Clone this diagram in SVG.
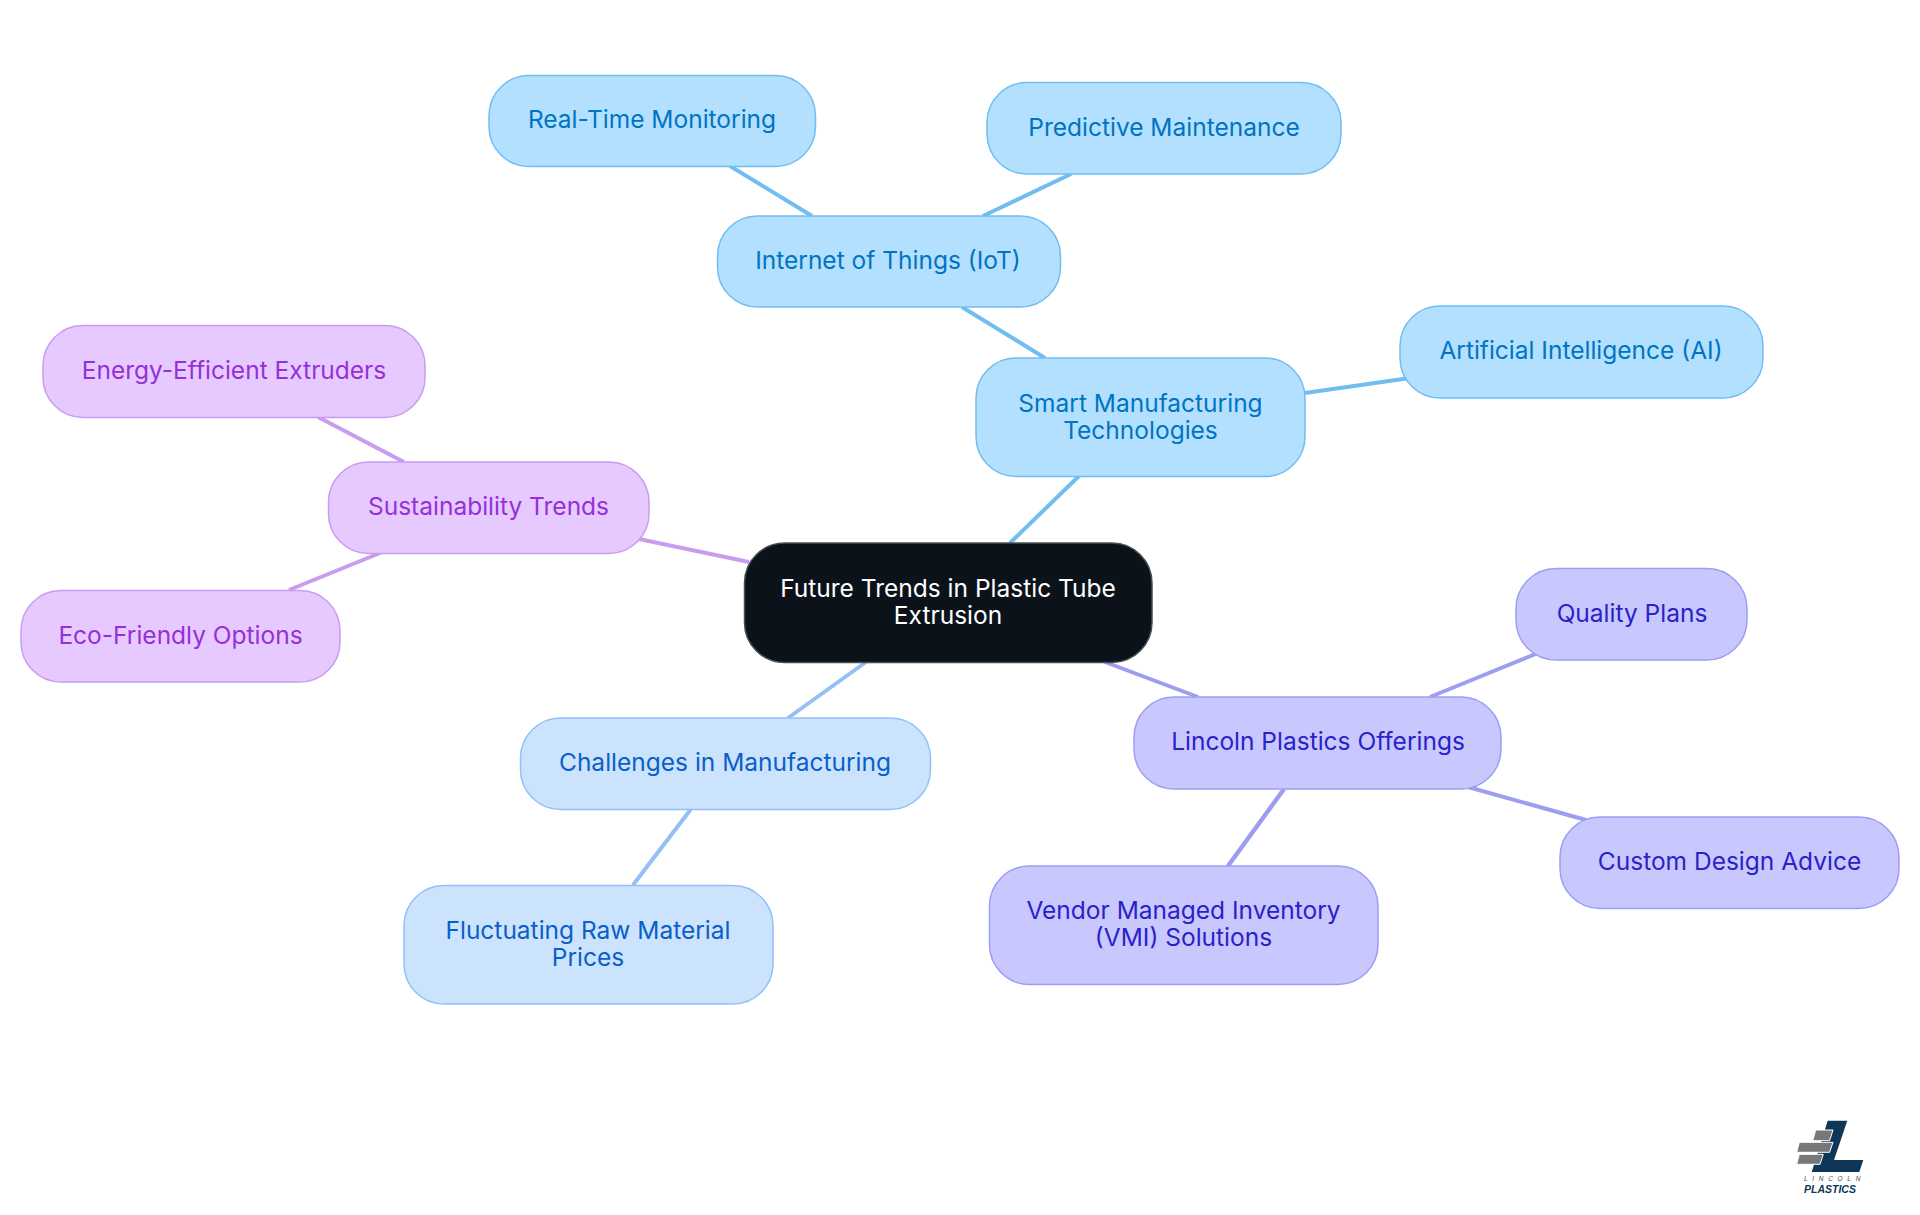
<svg xmlns="http://www.w3.org/2000/svg" width="1920" height="1215" viewBox="0 0 1920 1215">
<style>
text{font-family:"Inter","Noto Sans","Liberation Sans",sans-serif;font-size:24.5px;text-anchor:middle;dominant-baseline:central}
rect{stroke-width:1.5}
#connectors line{stroke-width:4;fill:none}
.root rect{fill:#0c121a;stroke:#4a4f55}.root text{fill:#fff}
.sky rect{fill:#b3e0ff;stroke:#72bdf0}.sky text{fill:#0074c2}
.pale rect{fill:#cce3fd;stroke:#94c0f5}.pale text{fill:#0a5fc9}
.ind rect{fill:#c8c8ff;stroke:#9d9df2}.ind text{fill:#2a22c8}
.vio rect{fill:#e6c9ff;stroke:#c99cf0}.vio text{fill:#9530d9}
.csky{stroke:#72bdf0}.cpale{stroke:#94c0f5}.cind{stroke:#9d9df2}.cvio{stroke:#c99cf0}
</style>
<rect width="1920" height="1215" fill="#fff" style="stroke:none"/>
<g id="connectors">
<line class="csky" x1="1010" y1="543" x2="1079" y2="476"/>
<line class="csky" x1="1045" y1="358" x2="962" y2="307"/>
<line class="csky" x1="812" y1="216" x2="730" y2="166"/>
<line class="csky" x1="983" y1="216" x2="1071" y2="174"/>
<line class="csky" x1="1305" y1="393" x2="1410" y2="378"/>
<line class="cvio" x1="749" y1="562" x2="639" y2="539"/>
<line class="cvio" x1="404" y1="462" x2="318" y2="417"/>
<line class="cvio" x1="380" y1="553" x2="289" y2="590"/>
<line class="cpale" x1="866" y1="662" x2="788" y2="718"/>
<line class="cpale" x1="691" y1="809" x2="633" y2="885"/>
<line class="cind" x1="1105" y1="662" x2="1198" y2="697"/>
<line class="cind" x1="1430" y1="697" x2="1538" y2="653"/>
<line class="cind" x1="1468" y1="787" x2="1586" y2="820"/>
<line class="cind" x1="1284" y1="789" x2="1228" y2="866" style="stroke-width:4.5"/>
</g>
<g id="root" class="root"><rect x="744.500" y="543" width="407.500" height="119.500" rx="40"/><text x="948" y="588">Future Trends in Plastic Tube</text><text x="948" y="615">Extrusion</text></g>
<g id="smart" class="sky"><rect x="976" y="358" width="329" height="118.500" rx="40"/><text x="1140.500" y="402.500">Smart Manufacturing</text><text x="1140.500" y="429.500">Technologies</text></g>
<g id="iot" class="sky"><rect x="717.500" y="216" width="343" height="91" rx="40"/><text x="888" y="260">Internet of Things (IoT)</text></g>
<g id="realtime" class="sky"><rect x="489" y="75.500" width="326.500" height="91" rx="40"/><text x="652" y="119">Real-Time Monitoring</text></g>
<g id="predictive" class="sky"><rect x="987" y="82.500" width="354" height="91.500" rx="40"/><text x="1164" y="127">Predictive Maintenance</text></g>
<g id="ai" class="sky"><rect x="1400" y="306" width="363" height="92" rx="40"/><text x="1581" y="350">Artificial Intelligence (AI)</text></g>
<g id="sustain" class="vio"><rect x="328.500" y="462" width="320.500" height="91.500" rx="40"/><text x="488.500" y="506">Sustainability Trends</text></g>
<g id="energy" class="vio"><rect x="43" y="325.500" width="382" height="92" rx="40"/><text x="234" y="370">Energy-Efficient Extruders</text></g>
<g id="eco" class="vio"><rect x="21" y="590.500" width="319" height="91.500" rx="40"/><text x="180.500" y="635">Eco-Friendly Options</text></g>
<g id="challenges" class="pale"><rect x="520.500" y="718" width="410" height="91.500" rx="40"/><text x="725" y="762">Challenges in Manufacturing</text></g>
<g id="fluctuating" class="pale"><rect x="404" y="885.500" width="369" height="118.500" rx="40"/><text x="588" y="930">Fluctuating Raw Material</text><text x="588" y="957">Prices</text></g>
<g id="lincoln" class="ind"><rect x="1134" y="697" width="367" height="92" rx="40"/><text x="1318" y="741">Lincoln Plastics Offerings</text></g>
<g id="quality" class="ind"><rect x="1516" y="568.500" width="231" height="91.500" rx="40"/><text x="1632" y="613">Quality Plans</text></g>
<g id="custom" class="ind"><rect x="1560" y="817" width="339" height="91.500" rx="40"/><text x="1729.500" y="861">Custom Design Advice</text></g>
<g id="vmi" class="ind"><rect x="989.500" y="866" width="388.500" height="118.500" rx="40"/><text x="1183.500" y="910">Vendor Managed Inventory</text><text x="1183.500" y="937">(VMI) Solutions</text></g>
<g id="logo">
<path d="M1827.700 1120.700H1847.300L1834 1160H1863.300L1859.300 1172H1811.700Z" fill="#0f3557"/>
<g fill="#77787a" stroke="#fff" stroke-width="1"><path d="M1815.700 1130H1833L1829.600 1140.700H1812.700Z"/><path d="M1799.300 1142.300H1833L1829.600 1152.300H1796.700Z"/><path d="M1799.300 1154.300H1823.300L1820 1164.300H1796.700Z"/></g>
<text x="1834.500" y="1178.500" style="font-family:'Liberation Sans',sans-serif;font-size:6.500px;letter-spacing:4.700px;fill:#45494e;font-style:italic">LINCOLN</text>
<text x="1830" y="1188.500" style="font-family:'Liberation Sans',sans-serif;font-size:10.500px;font-weight:700;font-style:italic;fill:#0f3557">PLASTICS</text>
</g>
</svg>
